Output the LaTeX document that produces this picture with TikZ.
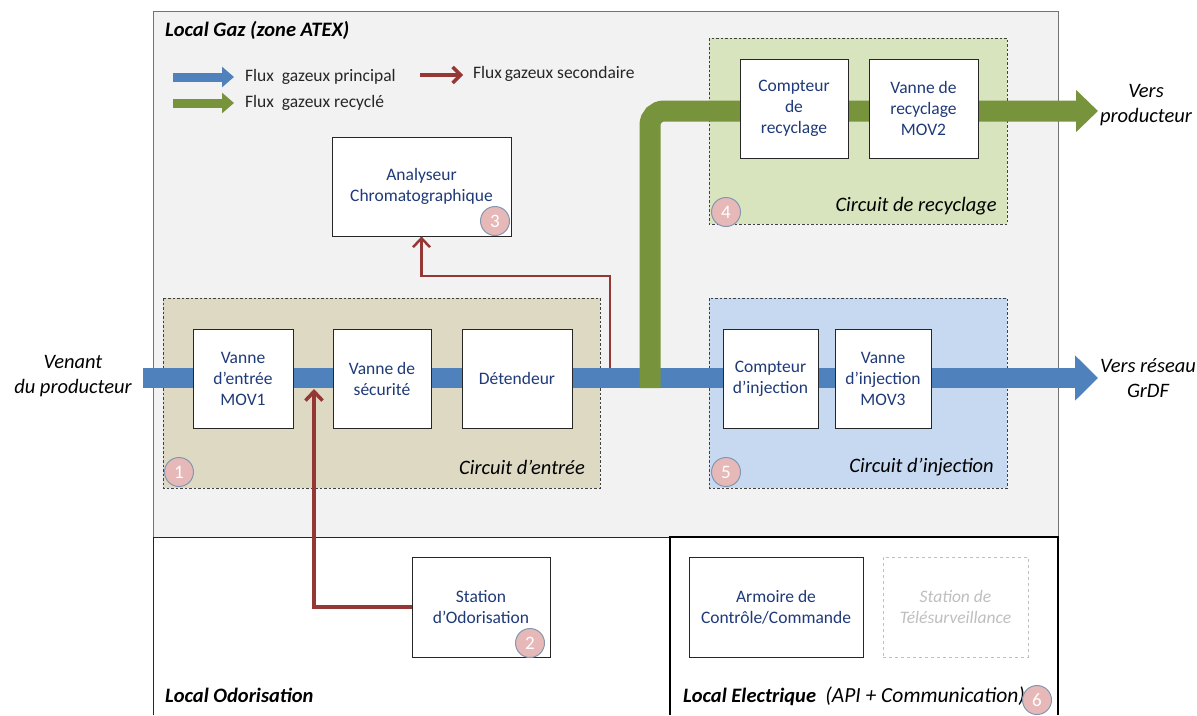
\documentclass[tikz,border=0pt]{standalone}
\usepackage{fontspec}
\setmainfont{Carlito}
\usetikzlibrary{arrows.meta}
\definecolor{gazbg}{HTML}{F2F2F2}
\definecolor{entbg}{HTML}{DDD9C3}
\definecolor{injbg}{HTML}{C6D9F1}
\definecolor{recbg}{HTML}{D7E4BD}
\definecolor{flowblue}{HTML}{4F81BD}
\definecolor{flowgreen}{HTML}{77933C}
\definecolor{flowred}{HTML}{953735}
\definecolor{boxtext}{HTML}{1F3A78}
\definecolor{badgefill}{HTML}{E6B9B8}
\definecolor{badgeline}{HTML}{8497B0}
\definecolor{ghost}{HTML}{BFBFBF}
\newcommand\boxfont{\fontsize{17.5}{21}\selectfont}
\newcommand\lblfont{\fontsize{20.5}{25}\selectfont\itshape}
\newcommand\zonefont{\fontsize{20.5}{24}\selectfont\bfseries\itshape}
\begin{document}
\begin{tikzpicture}[x=1pt,y=-1pt,
  unit/.style={draw=black!85, fill=white, line width=0.8pt, align=center,
    text=boxtext, font=\boxfont, inner sep=0pt},
  ghostbox/.style={draw=ghost, dashed, fill=white, line width=0.8pt, align=center,
    text=ghost, font=\boxfont\itshape, inner sep=0pt},
  badge/.style={circle, fill=badgefill, draw=badgeline, line width=1pt,
    minimum size=29pt, inner sep=0pt, text=white, font=\fontsize{19}{19}\selectfont},
  circuit/.style={draw=black!75, dash pattern=on 2.5pt off 2pt, line width=0.8pt},
  lbl/.style={font=\lblfont, inner sep=0pt},
  zone/.style={font=\zonefont, inner sep=0pt, anchor=west},
  legtext/.style={font=\boxfont, inner sep=0pt, anchor=west, text=black!85},
  mainflow/.style={flowblue, line width=20pt, -{Triangle[length=23pt,width=44pt]}},
  recflow/.style={flowgreen, line width=21pt, rounded corners=14pt, -{Triangle[length=22pt,width=41pt]}},
  secflow/.style={flowred, -{Straight Barb[length=9pt,width=17pt]}}
]
\useasboundingbox (0,0) rectangle (1197,715);

% zones
\fill[gazbg] (153,11) rectangle (1058,537);
\draw[black!55, line width=0.9pt] (153,11) rectangle (1058,537);
\draw[black!85, line width=0.9pt] (153,537) -- (153,715);
\draw[black!85, line width=0.9pt] (153,537) -- (670,537);
\draw[black, line width=1.4pt] (670,715) -- (670,537) -- (1058,537) -- (1058,715);

% circuits
\fill[entbg] (163,298) rectangle (600,488);
\draw[circuit] (163,298) rectangle (600,488);
\fill[recbg] (709,38) rectangle (1007,224);
\draw[circuit] (709,38) rectangle (1007,224);
\fill[injbg] (709,298) rectangle (1007,488);
\draw[circuit] (709,298) rectangle (1007,488);

% titles
\node[zone] (tgaz) at (165,30) {Local Gaz (zone ATEX)};
\node[zone] (todo) at (165,695) {Local Odorisation};
\node[zone] (telec) at (683,696) {Local Electrique\ \ {\mdseries\fontsize{21.5}{24}\selectfont(API + Communication)}};
\node[lbl, anchor=east] (lent) at (585,467) {Circuit d’entrée};
\node[lbl, anchor=east] (lrec) at (997,206) {Circuit de recyclage};
\node[lbl, anchor=east] (linj) at (994,467) {Circuit d’injection};
\node[lbl, align=center] (venant) at (73,376) {Venant\\du producteur};
\node[lbl, align=center] (versp) at (1146,105) {Vers\\producteur};
\node[lbl, align=center] (versr) at (1148,378) {Vers réseau\\GrDF};

% legend
\coordinate (lb1) at (173,77); \coordinate (lb2) at (234,77);
\coordinate (lg1) at (173,103); \coordinate (lg2) at (234,103);
\coordinate (lr1) at (420,75); \coordinate (lr2) at (463,75);
\draw[flowblue, line width=9pt, -{Triangle[length=12pt,width=20pt]}] (lb1) -- (lb2);
\draw[flowgreen, line width=9pt, -{Triangle[length=12pt,width=20pt]}] (lg1) -- (lg2);
\draw[flowred, line width=3.5pt, -{Straight Barb[length=8pt,width=16pt]}] (lr1) -- (lr2);
\node[legtext] (legb) at (245,77) {Flux\ \ gazeux principal};
\node[legtext] (legg) at (245,103) {Flux\ \ gazeux recyclé};
\node[legtext] (legr) at (473,74) {Flux\,gazeux secondaire};

% main flows
\coordinate (bin) at (143,378);
\coordinate (bout) at (1098,378);
\coordinate (gin) at (650,388);
\coordinate (gout) at (1098,111);
\draw[mainflow] (bin) -- (bout);
\draw[recflow] (gin) |- (gout);

% units
\node[unit, minimum width=100pt, minimum height=99pt] (mov1) at (243,378.5) {Vanne\\d’entrée\\MOV1};
\node[unit, minimum width=98pt, minimum height=99pt] (secu) at (382,378.5) {Vanne de\\sécurité};
\node[unit, minimum width=110pt, minimum height=99pt] (deten) at (517,378.5) {Détendeur};
\node[unit, minimum width=95pt, minimum height=99pt] (cinj) at (770.5,378.5) {Compteur\\d’injection};
\node[unit, minimum width=96pt, minimum height=99pt] (mov3) at (883,378.5) {Vanne\\d’injection\\MOV3};
\node[unit, minimum width=108pt, minimum height=99pt] (crec) at (794,108.5) {Compteur\\de\\recyclage};
\node[unit, minimum width=109pt, minimum height=99pt] (mov2) at (923.5,108.5) {Vanne de\\recyclage\\MOV2};
\node[unit, minimum width=179pt, minimum height=99pt] (analy) at (421.5,186.5) {Analyseur\\Chromatographique};
\node[unit, minimum width=138pt, minimum height=100pt] (odor) at (481,607) {Station\\d’Odorisation};
\node[unit, minimum width=174pt, minimum height=100pt] (armoire) at (776,607) {Armoire de\\Contrôle/Commande};
\node[ghostbox, minimum width=145pt, minimum height=100pt] (telesurv) at (955.5,607) {Station de\\Télésurveillance};

% secondary flows
\coordinate (rtap) at (610,368);
\coordinate (rodo) at (314,389);
\draw[secflow, line width=2.5pt] (rtap) -- ++(0,-92) -| (analy.south);
\draw[secflow, line width=3.5pt] (odor.west) -| (rodo);

% badges
\node[badge] (b1) at (179,472) {1};
\node[badge] (b2) at (530,643) {2};
\node[badge] (b3) at (495,221) {3};
\node[badge] (b4) at (726,212) {4};
\node[badge] (b5) at (726,472) {5};
\node[badge] (b6) at (1037,700) {6};
\end{tikzpicture}
\end{document}
